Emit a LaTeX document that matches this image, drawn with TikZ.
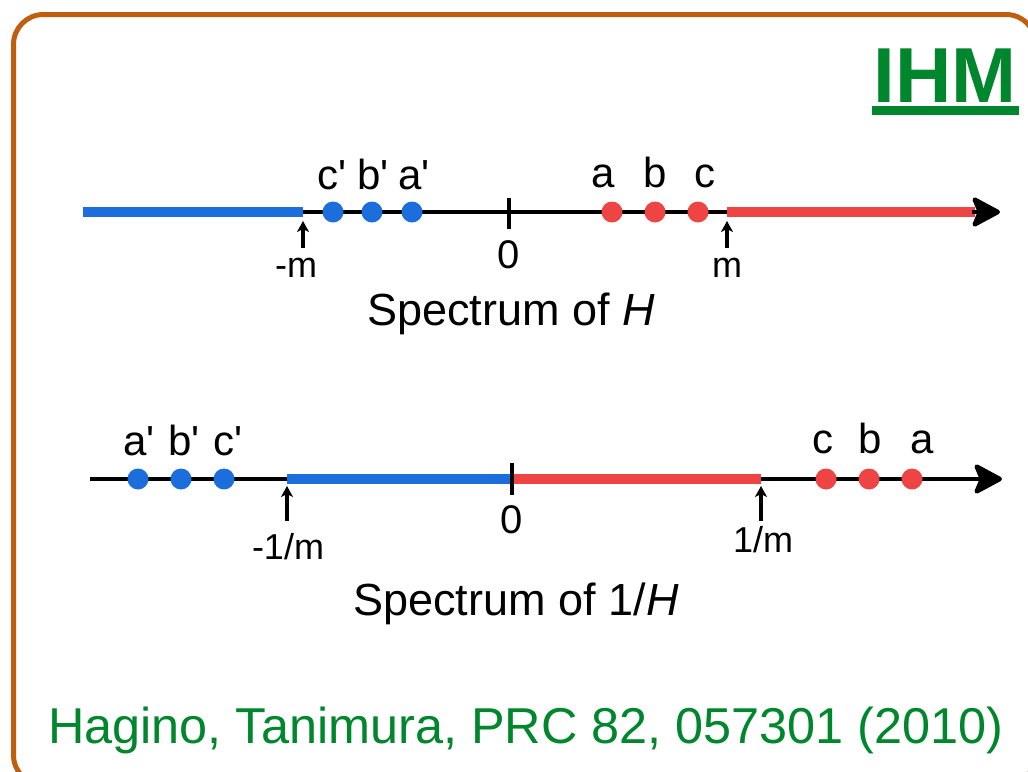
\documentclass[tikz,border=0pt]{standalone}
\usepackage{fontspec}
\setmainfont{Liberation Sans}
\usetikzlibrary{arrows.meta}
\definecolor{bblue}{RGB}{27,110,220}
\definecolor{rred}{RGB}{239,68,68}
\definecolor{ggreen}{RGB}{0,135,45}
\definecolor{oorange}{RGB}{192,94,16}
\newcommand{\qq}{\textquotesingle}
\begin{document}
\begin{tikzpicture}[x=1pt,y=-1pt,
  axis/.style={line width=4.5pt, black},
  bseg/.style={line width=10pt, bblue},
  rseg/.style={line width=10pt, rred},
  bigtip/.style={line width=4.5pt, -{Stealth[length=32pt,width=34pt,inset=7pt,round]}},
  smallarr/.style={line width=3.2pt, -{Stealth[length=11pt,width=12pt,inset=3pt]}},
  bdot/.style={circle, fill=bblue, inner sep=0pt, minimum size=21pt},
  rdot/.style={circle, fill=rred, inner sep=0pt, minimum size=21pt},
  lab/.style={inner sep=0pt, anchor=base, font=\fontsize{42}{50}\selectfont},
  slab/.style={inner sep=0pt, anchor=base, font=\fontsize{36}{43}\selectfont},
  zlab/.style={inner sep=0pt, anchor=base, font=\fontsize{40}{48}\selectfont},
  spectext/.style={inner sep=0pt, anchor=base, font=\fontsize{45}{54}\selectfont}]
\useasboundingbox (0,0) rectangle (1028,771);
\fill[white] (0,0) rectangle (1028,771);
% frame
\draw[oorange, line width=5pt, rounded corners=30pt] (13.5,14.5) rectangle (1036,785);
% title
\node[inner sep=0pt, anchor=base, text=ggreen, font=\fontsize{78}{90}\selectfont\bfseries] (title) at (945,102) {IHM};
\draw[ggreen, line width=9pt] (872,110.5) -- (1019,110.5);

% ---------- top axis ----------
\coordinate (t0) at (83,212);
\coordinate (tmm) at (303,212);
\coordinate (tz) at (509,212);
\coordinate (tm) at (727,212);
\coordinate (tend) at (975,212);
\coordinate (ttip) at (1000,212);
\draw[axis] (t0) -- (tend);
\draw[bseg] (t0) -- (tmm);
\draw[rseg] (tm) -- (tend);
\draw[bigtip] (972,212) -- (ttip);
\draw[axis] (509,198) -- (509,229);
\node[bdot] (tc1) at (333,212) {};
\node[bdot] (tb1) at (372,212) {};
\node[bdot] (ta1) at (412,212) {};
\node[rdot] (ta) at (612,212) {};
\node[rdot] (tb) at (655,212) {};
\node[rdot] (tc) at (698,212) {};
\node[lab] at (332,189) {c\qq};
\node[lab] at (373,189) {b\qq};
\node[lab] at (414,189) {a\qq};
\node[lab] at (603,187) {a};
\node[lab] at (655,187) {b};
\node[lab] at (705,187) {c};
\coordinate (amm) at (303,248);
\coordinate (am) at (727,248);
\draw[smallarr] (amm) -- (303,221);
\draw[smallarr] (am) -- (727,221);
\node[zlab] at (509,268) {0};
\node[slab] at (296,277) {-m};
\node[slab] at (727,277) {m};
\node[spectext] at (511,325) {Spectrum of \textit{H}};

% ---------- bottom axis ----------
\coordinate (b0) at (90,479);
\coordinate (bmm) at (287,479);
\coordinate (bz) at (512,479);
\coordinate (bm) at (761,479);
\coordinate (btip) at (1002,479);
\draw[axis] (b0) -- (980,479);
\draw[bseg] (bmm) -- (bz);
\draw[rseg] (bz) -- (bm);
\draw[bigtip] (960,479) -- (btip);
\draw[axis] (512,463) -- (512,495);
\node[bdot] (ba1) at (138,479) {};
\node[bdot] (bb1) at (181,479) {};
\node[bdot] (bc1) at (224,479) {};
\node[rdot] (bc) at (826,479) {};
\node[rdot] (bb) at (869,479) {};
\node[rdot] (ba) at (912,479) {};
\node[lab] at (139,455) {a\qq};
\node[lab] at (184,455) {b\qq};
\node[lab] at (228,455) {c\qq};
\node[lab] at (823,453) {c};
\node[lab] at (870,453) {b};
\node[lab] at (922,453) {a};
\draw[smallarr] (287,521) -- (287,486);
\draw[smallarr] (761,521) -- (761,486);
\node[zlab] at (512,533) {0};
\node[slab] at (288,559) {-1/m};
\node[slab] at (763,552) {1/m};
\node[spectext] at (516,615) {Spectrum of 1/\textit{H}};

% citation
\node[inner sep=0pt, anchor=base west, text=ggreen, font=\fontsize{50.4}{60}\selectfont] (cite) at (48,743) {Hagino, Tanimura, PRC 82, 057301 (2010)};
\end{tikzpicture}
\end{document}
